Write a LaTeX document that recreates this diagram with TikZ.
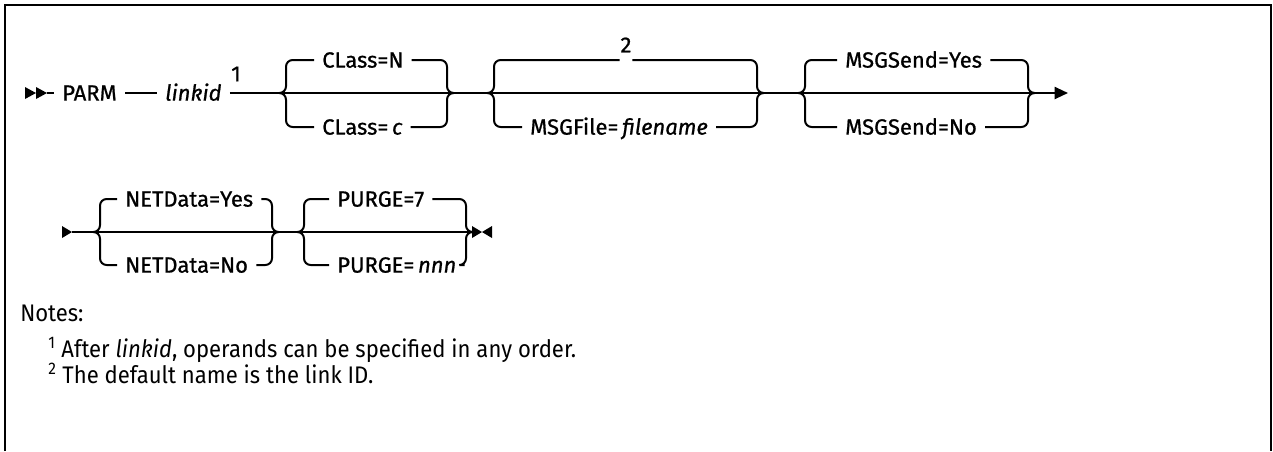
\documentclass[tikz,border=0pt]{standalone}
\usepackage{fontspec}
\setmainfont{Fira Sans}
\newfontfamily\railfont{Fira Sans}[FakeBold=0.8]
\newfontfamily\notefont{Fira Sans}[FakeStretch=0.92]
\usetikzlibrary{arrows.meta,calc}
\tikzset{
  rail/.style={line width=1.5pt},
  branch/.style={rail, rounded corners=5pt},
  kw/.style={font=\railfont\fontsize{16.5}{19}\selectfont, inner xsep=6pt, inner ysep=0pt,
    text height=11.4pt, text depth=0pt, anchor=west},
  refmark/.style={font=\railfont\fontsize{16.5}{19}\selectfont, inner sep=0pt},
  gapbox/.style={inner sep=0pt, minimum width=9pt, minimum height=1pt},
  notebox/.style={font=\notefont\fontsize{18}{21}\selectfont, inner sep=0pt, anchor=base west},
}

\begin{document}
\begin{tikzpicture}[x=0.75pt, y=-0.75pt]
  \useasboundingbox (0,0) rectangle (1273,451);
  \draw[line width=1.5pt] (5,451) -- (5,5) -- (1271,5) -- (1271,451);

  % first line
  \coordinate (start1) at (47,93);
  \node[kw] (parm) at (54,93) {PARM};
  \node[kw] (linkid) at (157,93) {\textit{linkid}};
  \node[refmark] (ref1) at (236,74) {1};
  \coordinate (l1) at (286,93);
  \coordinate (r1) at (447,93);
  \node[kw] (up1) at (314,60) {CLass=N};
  \node[kw] (dn1) at (314,127) {CLass=\,\textit{c}};
  \coordinate (l2) at (494,93);
  \coordinate (r2) at (757,93);
  \node[gapbox] (up2) at (626,60) {};
  \node[refmark] (ref2) at (626,45) {2};
  \node[kw] (dn2) at (522,127) {MSGFile=\,\textit{filename}\hspace{6pt}};
  \coordinate (l3) at (805,93);
  \coordinate (r3) at (1028,93);
  \node[kw] (up3) at (837,60) {MSGSend=Yes};
  \node[kw] (dn3) at (837,127) {MSGSend=No};
  \coordinate (end1) at (1068,93);

  % second line
  \coordinate (start2) at (72,232);
  \coordinate (l4) at (100,232);
  \coordinate (r4) at (272,232);
  \node[kw] (up4) at (117,199) {NETData=Yes};
  \node[kw] (dn4) at (117,265) {NETData=No};
  \coordinate (l5) at (304,232);
  \coordinate (r5) at (466,232);
  \node[kw] (up5) at (329,199) {PURGE=7};
  \node[kw] (dn5) at (329,265) {PURGE=\,\textit{nnn}};
  \coordinate (end2) at (472,232);

  % main lines
  \fill (25,87) -- (36,93) -- (25,99) -- cycle;
  \fill (36,87) -- (47,93) -- (36,99) -- cycle;
  \draw[rail] (start1) -- (parm.west);
  \draw[rail] (parm.east) -- (linkid.west);
  \draw[rail] (linkid.east) -- (l1) -- (r1) -- (l2) -- (r2) -- (l3) -- (r3);
  \draw[rail, -{Triangle[length=10pt, width=9pt]}] (r3) -- (end1);

  \fill (62,226) -- (72,232) -- (62,238) -- cycle;
  \draw[rail] (start2) -- (l4) -- (r4) -- (l5) -- (r5) -- (end2);
  \fill (472,226) -- (482,232) -- (472,238) -- cycle;
  \fill (492,226) -- (482,232) -- (492,238) -- cycle;

  % choices
  \foreach \g in {1,...,5} {
    \draw[branch] ([xshift=-5pt]l\g) -| (up\g.west -| l\g) -- (up\g.west);
    \draw[branch] (up\g.east) -| (r\g) -- ([xshift=5pt]r\g);
    \draw[branch] ([xshift=-5pt]l\g) -| (dn\g.west -| l\g) -- (dn\g.west);
    \draw[branch] (dn\g.east) -| (r\g) -- ([xshift=5pt]r\g);
  }

  % notes
  \node[notebox] (notes) at (20,321) {Notes:};
  \node[notebox] (note1) at (48,357)
    {\textsuperscript{1} After \textit{linkid}, operands can be specified in any order.};
  \node[notebox] (note2) at (48,383)
    {\textsuperscript{2} The default name is the link ID.};
\end{tikzpicture}
\end{document}
